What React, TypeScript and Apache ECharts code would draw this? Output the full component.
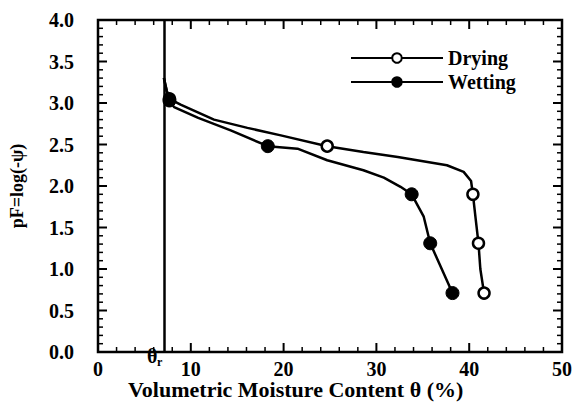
import React, { useEffect, useRef } from "react";
import * as echarts from "echarts";

const xTicks = [0, 10, 20, 30, 40, 50];
const yTicks = [0, 0.5, 1, 1.5, 2, 2.5, 3, 3.5, 4];
const residualTheta = 7.1;

const dryingX = [7.1, 7.4, 7.7, 8.9, 12.5, 16.1, 19.7, 24.7, 28.6, 32.3, 37.6, 39.4, 40.2, 40.4, 40.7, 41.0, 41.2, 41.6];
const dryingY = [3.3, 3.15, 3.05, 2.98, 2.8, 2.7, 2.61, 2.48, 2.41, 2.35, 2.25, 2.17, 2.06, 1.9, 1.6, 1.31, 1.0, 0.71];
const dryingMarked = [0, 0, 1, 0, 0, 0, 0, 1, 0, 0, 0, 0, 0, 1, 0, 1, 0, 1];

const wettingX = [7.1, 7.4, 7.7, 8.2, 10.8, 14.3, 18.3, 21.5, 24.7, 28.6, 30.8, 32.6, 33.8, 35.1, 35.8, 38.2];
const wettingY = [3.3, 3.15, 3.03, 2.95, 2.82, 2.67, 2.48, 2.45, 2.31, 2.19, 2.1, 1.99, 1.9, 1.63, 1.31, 0.71];
const wettingMarked = [0, 0, 1, 0, 0, 0, 1, 0, 0, 0, 0, 0, 1, 0, 1, 1];

// axis tick structure: minor every 2 (x) and 0.1 (y)
const X_MAX = 50;
const Y_MAX = 4;
const xTickMarks: number[][] = [];
for (let i = 0; i <= 25; i++) xTickMarks.push([i * 2, 0, i % 5 === 0 ? 1 : 0]);
const yTickMarks: number[][] = [];
for (let i = 0; i <= 40; i++) yTickMarks.push([0, i / 10, i % 5 === 0 ? 1 : 0]);

const FONT = "'Liberation Serif', 'DejaVu Serif', serif";

function build(xs: number[], ys: number[], marked: number[]) {
  return xs.map((x, i) => ({
    value: [x, ys[i]],
    symbol: marked[i] ? "circle" : "none",
  }));
}

export default function App() {
  const ref = useRef<HTMLDivElement>(null);
  useEffect(() => {
    const chart = echarts.init(ref.current!, null, { renderer: "svg" });
    chart.setOption({
      animation: false,
      backgroundColor: "#fff",
      grid: {
        left: 97,
        right: 15,
        top: 20,
        bottom: 55,
        show: true,
        borderColor: "#000",
        borderWidth: 2.5,
        backgroundColor: "transparent",
      },
      legend: {
        orient: "vertical",
        left: 345,
        top: 43,
        itemWidth: 92,
        itemHeight: 12,
        itemGap: 4,
        data: ["Drying", "Wetting"],
        textStyle: { fontFamily: FONT, fontSize: 20, fontWeight: "bold", color: "#000" },
      },
      xAxis: {
        type: "value",
        min: 0,
        max: X_MAX,
        interval: 10,
        axisLine: { show: false },
        axisTick: { show: false },
        splitLine: { show: false },
        axisLabel: {
          color: "#000",
          fontFamily: FONT,
          fontSize: 20,
          fontWeight: "bold",
          margin: 7,
          formatter: (v: number) => (xTicks.includes(v) ? String(v) : ""),
        },
      },
      yAxis: {
        type: "value",
        min: 0,
        max: Y_MAX,
        interval: 0.5,
        axisLine: { show: false },
        axisTick: { show: false },
        splitLine: { show: false },
        name: "pF=log(-ψ)",
        nameLocation: "middle",
        nameGap: 72,
        nameTextStyle: { color: "#000", fontFamily: FONT, fontSize: 18, fontWeight: "bold" },
        axisLabel: {
          color: "#000",
          fontFamily: FONT,
          fontSize: 20,
          fontWeight: "bold",
          margin: 24,
          formatter: (v: number) => (yTicks.includes(v) ? v.toFixed(1) : ""),
        },
      },
      series: [
        {
          name: "Drying",
          type: "line",
          data: build(dryingX, dryingY, dryingMarked),
          symbol: "circle",
          symbolSize: 11,
          showAllSymbol: true,
          itemStyle: { color: "#fff", borderColor: "#000", borderWidth: 2.5 },
          lineStyle: { color: "#000", width: 2.5 },
          z: 3,
          markLine: {
            silent: true,
            symbol: "none",
            label: { show: false },
            lineStyle: { color: "#000", width: 2.5, type: "solid" },
            data: [{ xAxis: residualTheta }],
          },
        },
        {
          name: "Wetting",
          type: "line",
          data: build(wettingX, wettingY, wettingMarked),
          symbol: "circle",
          symbolSize: 13,
          showAllSymbol: true,
          itemStyle: { color: "#000", borderColor: "#000", borderWidth: 1 },
          lineStyle: { color: "#000", width: 2.5 },
          z: 3,
        },
        {
          name: "xticks",
          type: "custom",
          silent: true,
          clip: false,
          z: 4,
          data: xTickMarks,
          renderItem: (_p: any, api: any) => {
            const v = api.value(0);
            const major = api.value(2) === 1;
            const len = major ? 9 : 5;
            const b = api.coord([v, 0]);
            const t = api.coord([v, Y_MAX]);
            const style = { stroke: "#000", lineWidth: major ? 2 : 1.5 };
            return {
              type: "group",
              children: [
                { type: "line", shape: { x1: b[0], y1: b[1], x2: b[0], y2: b[1] - len }, style },
                { type: "line", shape: { x1: t[0], y1: t[1], x2: t[0], y2: t[1] + len }, style },
              ],
            };
          },
        },
        {
          name: "yticks",
          type: "custom",
          silent: true,
          clip: false,
          z: 4,
          data: yTickMarks,
          renderItem: (_p: any, api: any) => {
            const v = api.value(1);
            const major = api.value(2) === 1;
            const len = major ? 9 : 5;
            const l = api.coord([0, v]);
            const r = api.coord([X_MAX, v]);
            const style = { stroke: "#000", lineWidth: major ? 2 : 1.5 };
            return {
              type: "group",
              children: [
                { type: "line", shape: { x1: l[0], y1: l[1], x2: l[0] + len, y2: l[1] }, style },
                { type: "line", shape: { x1: r[0], y1: r[1], x2: r[0] - len, y2: r[1] }, style },
              ],
            };
          },
        },
      ],
      graphic: [
        {
          type: "text",
          x: 128,
          y: 378,
          style: {
            text: "Volumetric Moisture Content θ (%)",
            fontFamily: FONT,
            fontSize: 22,
            fontWeight: "bold",
            fill: "#000",
          },
        },
        {
          type: "text",
          x: 147,
          y: 346,
          style: { text: "θ", fontFamily: FONT, fontSize: 20, fontWeight: "bold", fill: "#000" },
        },
        {
          type: "text",
          x: 157,
          y: 356,
          style: { text: "r", fontFamily: FONT, fontSize: 12, fontWeight: "bold", fill: "#000" },
        },
      ],
    });
    return () => chart.dispose();
  }, []);
  return (
    <div
      ref={ref}
      style={{ position: "absolute", left: 0, top: 0, width: 577, height: 407 }}
    />
  );
}
